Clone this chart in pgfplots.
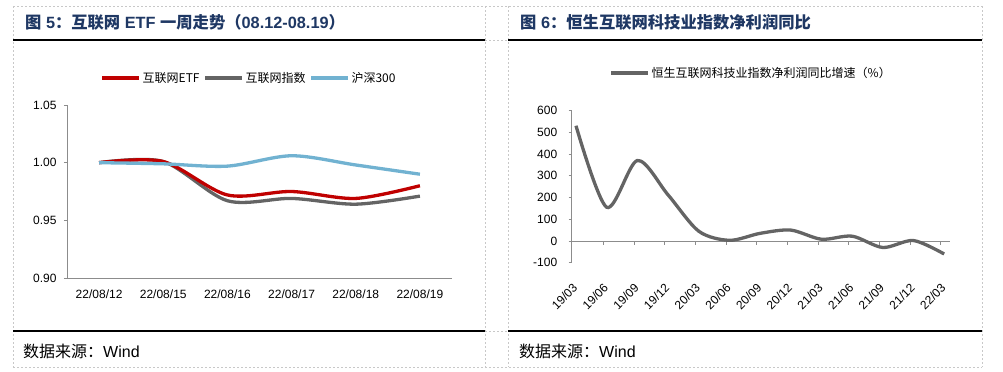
\documentclass[border=0pt]{standalone}
\usepackage{fontspec}
\setmainfont{Liberation Sans}
\newfontfamily\cjk{Noto Sans CJK SC}
\usepackage{pgfplots}
\pgfplotsset{compat=1.18}
\definecolor{ttl}{HTML}{1F3864}
\definecolor{cred}{HTML}{C00000}
\definecolor{cgray}{HTML}{646464}
\definecolor{cblue}{HTML}{71B2D1}
\definecolor{axg}{HTML}{8C8C8C}
\definecolor{dashc}{HTML}{C8C8C8}
\begin{document}
\begin{tikzpicture}
\path (0,0) rectangle (1003bp,-372bp);
\begin{scope}[dashc, dash pattern=on 2bp off 2bp, line width=0.6bp]
\foreach \y in {6,40,331,367} \draw (13bp,-\y bp) -- (982bp,-\y bp);
\foreach \x in {13,485,508,982} \draw (\x bp,-6bp) -- (\x bp,-367bp);
\end{scope}
\draw[black, line width=1.2bp] (13bp,-40bp) -- (485bp,-40bp);
\draw[black, line width=1.2bp] (508bp,-40bp) -- (982bp,-40bp);
\draw[black, line width=1.2bp] (13bp,-331bp) -- (485bp,-331bp);
\draw[black, line width=1.2bp] (508bp,-331bp) -- (982bp,-331bp);
% titles
\node[anchor=base west, inner sep=0pt, text=ttl, font=\fontsize{16.3bp}{20bp}\selectfont\bfseries] at (25bp,-28.5bp)
  {{\cjk\bfseries 图} 5{\cjk\bfseries ：互联网} ETF {\cjk\bfseries 一周走势（}08.12-08.19{\cjk\bfseries ）}};
\node[anchor=base west, inner sep=0pt, text=ttl, font=\fontsize{16.3bp}{20bp}\selectfont\bfseries] at (520bp,-28.5bp)
  {{\cjk\bfseries 图} 6{\cjk\bfseries ：恒生互联网科技业指数净利润同比}};
% sources
\node[anchor=base west, inner sep=0pt, font=\fontsize{16bp}{19bp}\selectfont] at (23bp,-357bp) {{\cjk 数据来源：}Wind};
\node[anchor=base west, inner sep=0pt, font=\fontsize{16bp}{19bp}\selectfont] at (519bp,-357bp) {{\cjk 数据来源：}Wind};

% left chart
\begin{axis}[
  at={(67bp,-278bp)}, anchor=south west,
  scale only axis, width=385bp, height=173bp,
  xmin=-0.5, xmax=5.5, ymin=0.90, ymax=1.05,
  axis x line*=bottom, axis y line*=left,
  axis line style={axg, line width=0.8bp},
  tick align=outside,
  tick style={axg, line width=0.8bp},
  xtick={0,...,5},
  xticklabels={22/08/12,22/08/15,22/08/16,22/08/17,22/08/18,22/08/19},
  major x tick style={draw=none},
  extra x ticks={-0.5,0.5,1.5,2.5,3.5,4.5,5.5},
  extra x tick labels={},
  extra x tick style={major tick length=4bp, tick style={axg, line width=0.8bp}},
  ytick={0.90,0.95,1.00,1.05},
  yticklabels={0.90,0.95,1.00,1.05},
  major tick length=3bp,
  ticklabel style={font=\fontsize{12bp}{14bp}\selectfont, text=black},
  xticklabel style={yshift=-5bp},
  yticklabel style={xshift=-4bp},
  legend columns=3,
  legend style={draw=none, fill=none, at={(axis description cs:0.0857,1.156)}, anchor=west,
    inner sep=0pt, nodes={inner sep=1.5bp},
    font=\cjk\fontsize{12bp}{14bp}\selectfont,
    /tikz/every even column/.append style={column sep=2bp}},
  legend image code/.code={\draw[#1, line width=4bp] (0bp,0bp) -- (37bp,0bp);},
]
\addplot[cgray, line width=3.3bp, smooth, tension=0.5, forget plot] coordinates {(0,1.000) (1,1.001) (2,0.967) (3,0.969) (4,0.964) (5,0.971)};
\addplot[cred, line width=3.3bp, smooth, tension=0.5, forget plot] coordinates {(0,1.000) (1,1.001) (2,0.972) (3,0.975) (4,0.969) (5,0.980)};
\addplot[cblue, line width=3.3bp, smooth, tension=0.5, forget plot] coordinates {(0,1.000) (1,0.999) (2,0.997) (3,1.006) (4,0.998) (5,0.990)};
\addlegendimage{cred}\addlegendentry{互联网ETF}
\addlegendimage{cgray}\addlegendentry{互联网指数}
\addlegendimage{cblue}\addlegendentry{沪深300}
\end{axis}

% right chart: zero line with ticks
\begin{axis}[
  at={(571.7bp,-262.7bp)}, anchor=south west,
  scale only axis, width=378.3bp, height=152.2bp,
  xmin=-0.14, xmax=12.19, ymin=-100, ymax=600,
  axis x line=middle, axis y line=none,
  x axis line style={-, axg, line width=0.8bp},
  xtick={0.89,1.89,2.89,3.89,4.89,5.89,6.89,7.89,8.89,9.89,10.89,11.89},
  xticklabels={},
  tick align=outside, major tick length=4bp,
  tick style={axg, line width=0.8bp},
  ytick=\empty,
]
\end{axis}
% right chart: data
\begin{axis}[
  at={(571.7bp,-262.7bp)}, anchor=south west,
  scale only axis, width=378.3bp, height=152.2bp,
  xmin=-0.14, xmax=12.19, ymin=-100, ymax=600,
  axis x line*=bottom, axis y line*=left,
  x axis line style={draw=none},
  y axis line style={axg, line width=0.8bp},
  tick align=outside,
  tick style={axg, line width=0.8bp},
  xtick={0,...,12},
  xticklabels={19/03,19/06,19/09,19/12,20/03,20/06,20/09,20/12,21/03,21/06,21/09,21/12,22/03},
  major x tick style={draw=none},
  xticklabel style={inner sep=0pt, anchor=north east, xshift=-4bp, rotate=45},
  xticklabel shift=17bp,
  ytick={-100,0,100,200,300,400,500,600},
  yticklabels={-100,0,100,200,300,400,500,600},
  yticklabel style={xshift=-8bp},
  major tick length=3bp,
  ticklabel style={font=\fontsize{12bp}{14bp}\selectfont, text=black},
  legend style={draw=none, fill=none, at={(axis description cs:0.0986,1.246)}, anchor=west,
    inner sep=0pt, nodes={inner sep=1.5bp},
    font=\cjk\fontsize{12bp}{14bp}\selectfont},
  legend image code/.code={\draw[#1, line width=4bp] (0bp,0bp) -- (37bp,0bp);},
]
\addplot[cgray, line width=3.3bp, smooth, tension=0.5] coordinates {
(0,530) (1,155) (2,370) (3,212) (4,45) (5,3) (6,35) (7,50) (8,8) (9,22) (10,-30) (11,2) (12,-60)};
\addlegendentry{恒生互联网科技业指数净利润同比增速（\%）}
\end{axis}
\end{tikzpicture}
\end{document}
